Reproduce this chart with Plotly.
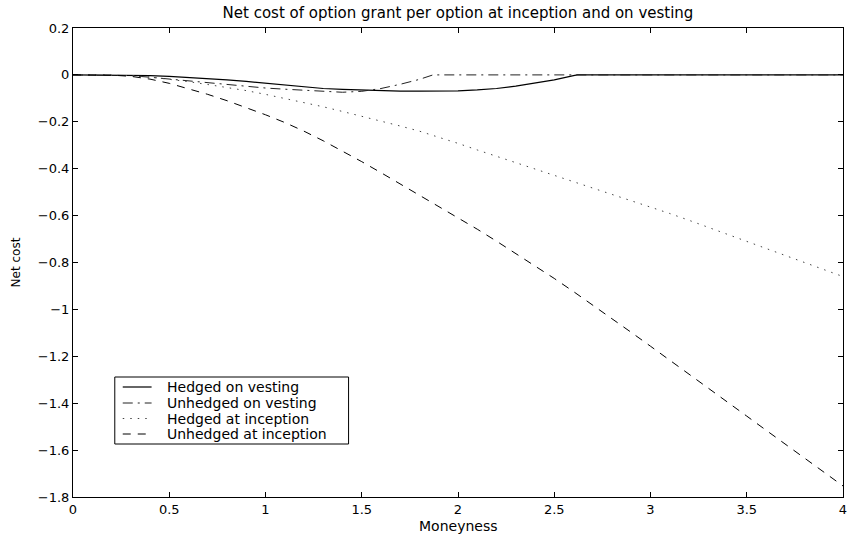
import plotly.graph_objects as go

# ---------------- data ----------------
grid = [round(0.1 * i, 1) for i in range(41)]

hedged_vesting_x = [round(0.1 * i, 1) for i in range(27)] + [2.62, 4.0]
hedged_vesting_y = [0, 0, 0, -0.001, -0.003, -0.006, -0.010, -0.015, -0.021, -0.028,
                    -0.036, -0.044, -0.052, -0.058, -0.062, -0.065, -0.067, -0.069,
                    -0.069, -0.069, -0.068, -0.064, -0.058, -0.048, -0.035, -0.021,
                    -0.003, 0, 0]

unhedged_vesting_x = [round(0.1 * i, 1) for i in range(19)] + [1.87, 4.0]
unhedged_vesting_y = [0, 0, 0, -0.003, -0.010, -0.018, -0.026, -0.034, -0.042, -0.049,
                      -0.056, -0.061, -0.066, -0.072, -0.074, -0.070, -0.058, -0.040,
                      -0.019, 0, 0]

hedged_inception_y = [0, 0, 0, -0.003, -0.009, -0.018, -0.029, -0.041, -0.053, -0.067,
                      -0.083, -0.100, -0.118, -0.136, -0.156, -0.176, -0.197, -0.218,
                      -0.240, -0.265, -0.292, -0.320, -0.347, -0.374, -0.400, -0.427,
                      -0.454, -0.481, -0.508, -0.535, -0.562, -0.591, -0.620, -0.650,
                      -0.679, -0.708, -0.738, -0.768, -0.799, -0.829, -0.860]

unhedged_inception_y = [0, 0, -0.001, -0.006, -0.018, -0.036, -0.058, -0.083, -0.110,
                        -0.139, -0.170, -0.203, -0.240, -0.281, -0.325, -0.370, -0.417,
                        -0.465, -0.513, -0.561, -0.608, -0.658, -0.709, -0.761, -0.814,
                        -0.868, -0.924, -0.981, -1.039, -1.098, -1.157, -1.216, -1.275,
                        -1.335, -1.395, -1.455, -1.515, -1.574, -1.634, -1.694, -1.753]

series_names = ["Hedged on vesting", "Unhedged on vesting",
                "Hedged at inception", "Unhedged at inception"]

x_ticks = [0, 0.5, 1, 1.5, 2, 2.5, 3, 3.5, 4]
x_tick_text = ["0", "0.5", "1", "1.5", "2", "2.5", "3", "3.5", "4"]
y_ticks = [0.2, 0, -0.2, -0.4, -0.6, -0.8, -1, -1.2, -1.4, -1.6, -1.8]
y_tick_text = ["0.2", "0", "\u22120.2", "\u22120.4", "\u22120.6", "\u22120.8", "\u22121",
               "\u22121.2", "\u22121.4", "\u22121.6", "\u22121.8"]

# ---------------- styles ----------------
FONT = "DejaVu Sans"
line_styles = [
    dict(color="black", width=1.2, dash="solid"),
    dict(color="#222222", width=1, dash="10px,5px,2px,5px"),
    dict(color="#444444", width=1, dash="1.5px,6px"),
    dict(color="black", width=1, dash="8px,7px"),
]

W, H = 849, 535
ML, MR, MT, MB = 73, 2, 28, 38
PW, PH = W - ML - MR, H - MT - MB


def px_to_paper_x(px):
    return (px - ML) / PW


def px_to_paper_y(py):
    return (H - MB - py) / PH


# ---------------- figure ----------------
fig = go.Figure()
series_x = [hedged_vesting_x, unhedged_vesting_x, grid, grid]
series_y = [hedged_vesting_y, unhedged_vesting_y, hedged_inception_y, unhedged_inception_y]
for name, xs, ys, st in zip(series_names, series_x, series_y, line_styles):
    fig.add_trace(go.Scatter(x=xs, y=ys, mode="lines", name=name, line=st,
                             showlegend=False))

axis_common = dict(showline=True, linecolor="black", linewidth=1, mirror="ticks",
                   ticks="inside", ticklen=5, tickcolor="black", tickwidth=1,
                   showgrid=False, zeroline=False,
                   tickfont=dict(family=FONT, size=13, color="black"))

# ---- legend box (drawn as a key in paper coordinates) ----
shapes = [dict(type="rect", xref="paper", yref="paper",
               x0=px_to_paper_x(115), x1=px_to_paper_x(350),
               y0=px_to_paper_y(444), y1=px_to_paper_y(377),
               line=dict(color="black", width=1), fillcolor="white", layer="above")]
annotations = []
row_centers = [387, 403, 418.5, 434]
for name, st, ry in zip(series_names, line_styles, row_centers):
    yy = px_to_paper_y(ry)
    shapes.append(dict(type="line", xref="paper", yref="paper",
                       x0=px_to_paper_x(123), x1=px_to_paper_x(152), y0=yy, y1=yy,
                       line=st, layer="above"))
    annotations.append(dict(text=name, xref="paper", yref="paper",
                            x=px_to_paper_x(165), y=yy, xanchor="left", yanchor="middle",
                            showarrow=False,
                            font=dict(family=FONT, size=14, color="black")))

annotations.append(dict(text="Moneyness", xref="paper", yref="paper", x=0.5, y=0,
                        yshift=-29, xanchor="center", yanchor="middle", showarrow=False,
                        font=dict(family=FONT, size=14, color="black")))

fig.update_layout(
    width=W, height=H,
    margin=dict(l=ML, r=MR, t=MT, b=MB),
    paper_bgcolor="white", plot_bgcolor="white",
    font=dict(family=FONT, color="black"),
    title=dict(text="Net cost of option grant per option at inception and on vesting",
               font=dict(family=FONT, size=15, color="black"),
               x=0.5, xref="paper", xanchor="center",
               y=1 - 13 / H, yref="container", yanchor="middle"),
    xaxis=dict(range=[0, 4], tickvals=x_ticks, ticktext=x_tick_text,
               ticklabeloverflow="allow", **axis_common),
    yaxis=dict(range=[-1.8, 0.2], tickvals=y_ticks, ticktext=y_tick_text,
               title=dict(text="Net cost", font=dict(family=FONT, size=12, color="black"),
                          standoff=14),
               **axis_common),
    showlegend=False,
    shapes=shapes,
    annotations=annotations,
)

fig.write_html("out.html")
